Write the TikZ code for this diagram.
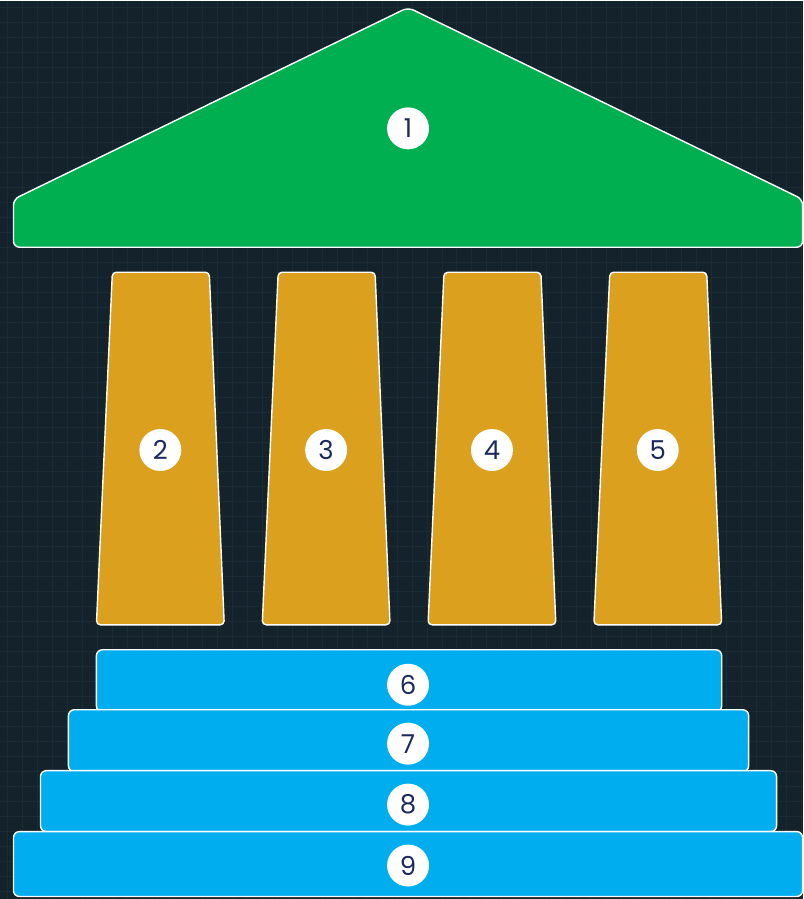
\documentclass[tikz,border=0pt]{standalone}
\usepackage{fontspec}
\setmainfont{Poppins}
\usetikzlibrary{positioning}
\definecolor{bgdark}{RGB}{19, 34, 43}
\definecolor{gridteal}{RGB}{25, 43, 51}
\definecolor{roofgreen}{RGB}{0, 176, 80}
\definecolor{pillargold}{RGB}{218, 160, 30}
\definecolor{stepblue}{RGB}{0, 174, 239}
\definecolor{numnavy}{RGB}{27, 42, 94}

\begin{document}
\begin{tikzpicture}[x=1pt, y=-1pt, line width=1.4pt,
    part/.style={draw=white, rounded corners=6pt},
    stepbox/.style={part, fill=stepblue, inner sep=0pt},
    num/.style={circle, fill=white, minimum size=42pt, inner sep=0pt,
        text=numnavy, font=\fontsize{26}{28}\selectfont}]
    % background with faint grid
    \fill[bgdark] (0,0) rectangle (803,899);
    \draw[gridteal, line width=1pt, step=15pt, shift={(7,7)}] (-7,-7) grid (796,892);
    \useasboundingbox (0,0) rectangle (803,899);

    % roof
    \draw[part, fill=roofgreen] (13,247) -- (13,199) -- (408,7) -- (803,199) -- (803,247) -- cycle;
    \node[num] (n1) at (408,128) {1};

    % pillars
    \draw[part, rounded corners=4pt, fill=pillargold] (96,625) -- (112,272) -- (209,272) -- (224,625) -- cycle;
    \draw[part, rounded corners=4pt, fill=pillargold] (262,625) -- (278,272) -- (375,272) -- (390,625) -- cycle;
    \draw[part, rounded corners=4pt, fill=pillargold] (428,625) -- (444,272) -- (541,272) -- (556,625) -- cycle;
    \draw[part, rounded corners=4pt, fill=pillargold] (594,625) -- (610,272) -- (707,272) -- (722,625) -- cycle;
    \node[num] (n2) at (160,450) {2};
    \node[num] (n3) at (326,450) {3};
    \node[num] (n4) at (492,450) {4};
    \node[num] (n5) at (658,450) {5};

    % steps
    \node[stepbox, minimum width=626pt, minimum height=62pt] (step6) at (409,681) {};
    \node[stepbox, minimum width=681pt, minimum height=62pt] (step7) at (408.5,741) {};
    \node[stepbox, minimum width=737pt, minimum height=61pt] (step8) at (408.5,801.5) {};
    \node[stepbox, minimum width=790pt, minimum height=65pt] (step9) at (408,864.5) {};
    \node[num] (n6) at (408,685) {6};
    \node[num] (n7) at (408,744) {7};
    \node[num] (n8) at (408,805) {8};
    \node[num] (n9) at (408,866) {9};
\end{tikzpicture}
\end{document}
